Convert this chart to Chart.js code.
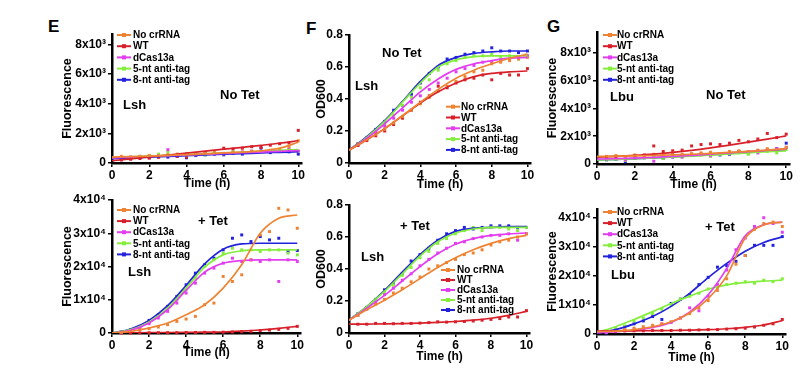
<!DOCTYPE html>
<html><head><meta charset="utf-8">
<script src="https://cdn.jsdelivr.net/npm/chart.js@4.4.0/dist/chart.umd.min.js"></script>
<style>
html,body{margin:0;padding:0;background:#fff;width:811px;height:387px;overflow:hidden;position:relative;}
.box{position:absolute;}
.letter{position:absolute;font:bold 17px "Liberation Sans",Arial,sans-serif;color:#000;line-height:17px;}
</style></head><body>
<div class="letter" style="left:48px;top:18px">E</div>
<div class="letter" style="left:306px;top:20px">F</div>
<div class="letter" style="left:547px;top:18px">G</div>
<script>
// ---------- shared ----------
const TIMES = [0.5,1,1.5,2,2.5,3,3.5,4,4.5,5,5.5,6,6.5,7,7.5,8,8.5,9,9.5,10];
const FIT_T = [0,1,2,3,4,5,6,7,8,9,10];
const SERIES = ['No crRNA','WT','dCas13a','5-nt anti-tag','8-nt anti-tag'];
const X_TICKS = [0,2,4,6,8,10];
const FLUO_TICKS_LOW = [0,2000,4000,6000,8000];
const FLUO_TICKS_HIGH = [0,10000,20000,30000,40000];
const OD_TICKS = [0,0.2,0.4,0.6,0.8];

// ---------- Panel E top: Lsh, No Tet (fluorescence) ----------
const eTopFitNo  = [400,430,470,520,570,620,680,740,820,1000,1400];
const eTopFitWT  = [150,280,410,540,670,800,930,1060,1190,1330,1500];
const eTopFitDC  = [350,390,440,490,540,590,640,690,740,790,840];
const eTopFit5   = [380,420,470,520,570,620,680,730,790,850,900];
const eTopFit8   = [300,340,390,440,490,540,590,630,680,720,760];
const eTopPtNo = [450,380,420,500,480,560,600,520,600,650,700,620,700,720,760,780,820,900,1100,1500];
const eTopPtWT = [200,250,300,330,380,500,450,400,600,700,650,1000,950,1000,1100,1050,1200,1300,1350,2200];
const eTopPtDC = [300,400,450,350,500,900,500,600,550,700,600,650,700,750,800,780,850,820,900,800];
const eTopPt5  = [350,400,450,500,600,750,500,650,600,550,700,650,750,700,800,750,850,900,950,800];
const eTopPt8  = [250,300,350,400,450,400,450,350,500,550,600,550,650,600,750,1000,700,800,750,600];

// ---------- Panel E bottom: Lsh, + Tet (fluorescence) ----------
const eBotFitNo = [0,500,1500,3000,5500,8500,13500,20500,30000,34500,35500];
const eBotFitWT = [0,50,100,150,200,250,300,550,900,1400,2000];
const eBotFitDC = [0,800,3000,7000,12800,18300,21000,21800,22000,22000,22000];
const eBotFit5  = [0,1000,3300,7500,13500,19800,23500,24700,25000,25000,25000];
const eBotFit8  = [0,1200,3800,8200,14300,20800,25200,26800,27000,27000,27000];
const eBotPtNo = [200,600,1000,1300,1800,2500,3500,4200,5000,8500,9000,17000,15500,17500,22000,29500,30500,37500,37000,31500];
const eBotPtWT = [0,0,50,50,100,100,100,150,150,200,200,250,300,400,500,700,900,1100,1400,2000];
const eBotPtDC = [100,600,1500,2800,4500,6500,9000,12000,15000,18000,19500,21000,22500,21500,22000,21500,22000,15500,22000,21500];
const eBotPt5  = [150,800,1800,3200,5000,7500,10000,13000,16500,20000,22000,24000,25500,25000,25000,24500,25000,25000,24000,23500];
const eBotPt8  = [200,900,2000,3800,5500,8000,11000,14500,18000,20500,22500,25000,28500,29500,27500,29000,28000,28500,24500,24800];

// ---------- Panel F top: Lsh, No Tet (OD600) ----------
const fTopFitNo = [0.08,0.145,0.215,0.295,0.38,0.46,0.53,0.58,0.62,0.655,0.68];
const fTopFitWT = [0.08,0.145,0.215,0.295,0.375,0.445,0.50,0.54,0.56,0.57,0.575];
const fTopFitDC = [0.08,0.155,0.245,0.345,0.445,0.525,0.585,0.62,0.64,0.655,0.66];
const fTopFit5  = [0.08,0.16,0.26,0.38,0.50,0.60,0.645,0.665,0.67,0.67,0.67];
const fTopFit8  = [0.08,0.165,0.265,0.385,0.51,0.61,0.66,0.685,0.695,0.70,0.70];
const fTopPtNo = [0.12,0.15,0.18,0.21,0.25,0.29,0.33,0.37,0.41,0.45,0.48,0.51,0.54,0.57,0.58,0.62,0.63,0.64,0.65,0.66];
const fTopPtWT = [0.11,0.14,0.17,0.20,0.24,0.28,0.33,0.38,0.42,0.48,0.47,0.50,0.52,0.53,0.55,0.52,0.56,0.55,0.55,0.59];
const fTopPtDC = [0.11,0.15,0.19,0.23,0.28,0.33,0.38,0.42,0.46,0.50,0.53,0.57,0.59,0.61,0.63,0.63,0.64,0.65,0.66,0.67];
const fTopPt5  = [0.12,0.16,0.20,0.24,0.30,0.36,0.41,0.47,0.52,0.58,0.62,0.64,0.66,0.67,0.67,0.68,0.66,0.67,0.65,0.67];
const fTopPt8  = [0.12,0.16,0.21,0.26,0.33,0.36,0.43,0.50,0.56,0.60,0.65,0.66,0.68,0.69,0.70,0.72,0.70,0.70,0.69,0.70];

// ---------- Panel F bottom: Lsh, + Tet (OD600) ----------
const fBotFitNo = [0.08,0.145,0.205,0.27,0.34,0.41,0.47,0.52,0.56,0.59,0.61];
const fBotFitWT = [0.055,0.056,0.057,0.059,0.062,0.066,0.072,0.08,0.092,0.11,0.135];
const fBotFitDC = [0.08,0.155,0.235,0.325,0.415,0.495,0.555,0.59,0.61,0.62,0.625];
const fBotFit5  = [0.08,0.165,0.26,0.37,0.48,0.57,0.625,0.65,0.66,0.66,0.66];
const fBotFit8  = [0.08,0.165,0.265,0.38,0.49,0.58,0.635,0.655,0.66,0.665,0.665];
const fBotPtNo = [0.11,0.15,0.18,0.21,0.25,0.28,0.32,0.35,0.40,0.42,0.44,0.46,0.49,0.50,0.52,0.55,0.57,0.58,0.60,0.62];
const fBotPtWT = [0.055,0.055,0.06,0.06,0.058,0.06,0.06,0.062,0.065,0.07,0.068,0.07,0.072,0.075,0.08,0.085,0.09,0.10,0.10,0.14];
const fBotPtDC = [0.11,0.15,0.19,0.24,0.28,0.33,0.37,0.42,0.46,0.50,0.53,0.56,0.57,0.59,0.60,0.61,0.61,0.62,0.58,0.62];
const fBotPt5  = [0.12,0.16,0.21,0.26,0.30,0.36,0.41,0.47,0.51,0.56,0.59,0.62,0.64,0.66,0.64,0.66,0.66,0.65,0.64,0.66];
const fBotPt8  = [0.12,0.16,0.21,0.27,0.31,0.37,0.45,0.49,0.53,0.58,0.62,0.64,0.66,0.65,0.66,0.67,0.67,0.67,0.66,0.66];

// ---------- Panel G top: Lbu, No Tet (fluorescence) ----------
const gTopFitNo = [550,560,580,610,650,700,760,830,910,1000,1100];
const gTopFitWT = [500,550,620,710,830,980,1160,1360,1570,1790,2020];
const gTopFitDC = [350,380,420,470,540,620,710,800,890,980,1070];
const gTopFit5  = [300,340,380,430,490,560,640,720,800,880,950];
const gTopFit8  = [300,340,390,440,510,590,670,760,850,950,1050];
const gTopPtNo = [550,600,500,650,600,700,650,800,700,750,800,850,750,900,950,900,1000,1100,1000,1200];
const gTopPtWT = [500,550,450,600,650,1300,900,950,1000,1300,1400,1450,1400,1500,1700,1600,1800,2200,1900,2150];
const gTopPtDC = [350,400,300,450,500,200,550,600,500,650,700,600,750,800,850,900,800,1000,1100,1200];
const gTopPt5  = [300,350,250,400,450,500,400,550,500,600,650,550,700,750,800,700,850,900,800,1050];
const gTopPt8  = [300,350,150,400,450,550,400,500,600,650,700,750,650,700,900,800,950,1000,1100,1500];

// ---------- Panel G bottom: Lbu, + Tet (fluorescence) ----------
const gBotFitNo = [800,1000,1500,2500,4200,7200,12200,20000,33000,37500,38500];
const gBotFitWT = [1000,1050,1100,1150,1200,1300,1500,1800,2300,3100,4600];
const gBotFitDC = [500,800,1300,2300,4000,7500,13500,22500,33800,37600,38500];
const gBotFit5  = [500,2500,5000,7700,10500,13000,15400,16900,17700,18200,18500];
const gBotFit8  = [300,1500,3500,6000,9500,14000,19400,24300,28500,31500,33400];
const gBotPtNo = [900,1200,1500,2000,2500,3000,3500,4200,5500,7000,9000,11500,15000,19000,24000,27000,36000,38000,38500,37000];
const gBotPtWT = [1000,1000,1100,1100,1100,1200,1200,1200,1300,1300,1400,1500,1500,1700,1800,2000,2400,3000,3500,5000];
const gBotPtDC = [500,800,1100,1500,2000,2500,3500,4000,5500,9000,8000,13000,17000,22000,29000,33000,37000,40000,38000,35000];
const gBotPt5  = [600,2000,2800,4500,5500,7000,8500,10000,12000,13000,14000,15500,16000,17000,17500,18000,17500,18500,18000,19000];
const gBotPt8  = [300,1500,2500,3500,4500,6000,5000,10500,12000,13500,17000,19500,23000,23500,25000,27000,30500,30500,30500,33500];

const COLORS = ['#EE8433','#D8202A','#E23EF0','#84EE3C','#2222DD'];
const FONT = '"Liberation Sans", Arial, sans-serif';

function fluoFmt(v){
  if (v === 0) return '0';
  if (v >= 10000) return (v/10000) + 'x10\u2074';
  return (v/1000) + 'x10\u00B3';
}
function odFmt(v){ return v === 0 ? '0' : v.toFixed(1); }

const overlay = {
  id: 'overlay',
  afterDatasetsDraw(chart, args, o) {
    if (!o || !o.legend) return;
    const ctx = chart.ctx;
    ctx.save();
    const lg = o.legend;
    ctx.font = 'bold 10px ' + FONT;
    ctx.textBaseline = 'middle';
    ctx.textAlign = 'left';
    SERIES.forEach((name, i) => {
      const y = lg.y + i * lg.dy - o.oy;
      const x0 = lg.x - o.ox;
      ctx.strokeStyle = COLORS[i];
      ctx.lineWidth = 2;
      ctx.beginPath(); ctx.moveTo(x0, y); ctx.lineTo(x0 + lg.w, y); ctx.stroke();
      ctx.fillStyle = COLORS[i];
      ctx.fillRect(x0 + lg.w/2 - 2, y - 2, 4, 4);
      ctx.fillStyle = '#000';
      ctx.fillText(name, lg.tx - o.ox, y + 0.5);
    });
    ctx.font = 'bold 13px ' + FONT;
    o.texts.forEach(t => ctx.fillText(t.s, t.x - o.ox, t.y - o.oy));
    ctx.restore();
  }
};

function makePanel(p) {
  const left = Math.round(p.titleX - 7);
  const top = p.T - 12;
  const yw = p.L - left;
  const xh = p.xTitleDy + 7;
  const width = p.R + 12 - left;
  const height = p.B + xh - top;
  const div = document.createElement('div');
  div.className = 'box';
  div.style.left = left + 'px'; div.style.top = top + 'px';
  div.style.width = width + 'px'; div.style.height = height + 'px';
  const cv = document.createElement('canvas');
  div.appendChild(cv);
  document.body.appendChild(div);

  const datasets = [];
  p.fits.forEach((arr, i) => {
    datasets.push({
      type: 'line', label: SERIES[i],
      data: FIT_T.map((t, k) => ({x: t, y: arr[k]})),
      borderColor: COLORS[i], borderWidth: 1.7, pointRadius: 0,
      cubicInterpolationMode: 'monotone', fill: false
    });
  });
  p.pts.forEach((arr, i) => {
    datasets.push({
      type: 'scatter', label: SERIES[i] + ' data',
      data: TIMES.map((t, k) => ({x: t, y: arr[k]})),
      backgroundColor: COLORS[i], borderColor: COLORS[i],
      pointStyle: 'rect', pointRadius: 2.1, borderWidth: 0, clip: false
    });
  });

  new Chart(cv, {
    type: 'scatter',
    data: { datasets },
    options: {
      responsive: true, maintainAspectRatio: false, animation: false,
      layout: { padding: { left: 0, top: 12, right: 12, bottom: 0 } },
      plugins: {
        legend: { display: false }, tooltip: { enabled: false },
        overlay: { ox: left, oy: top, legend: p.legend, texts: p.texts }
      },
      scales: {
        x: {
          type: 'linear', min: 0, max: 10.2,
          afterBuildTicks: s => { s.ticks = X_TICKS.map(v => ({value: v})); },
          afterFit: s => { s.height = xh; },
          ticks: { color: '#000', font: { family: FONT, weight: 'bold', size: 12 }, padding: 1, maxRotation: 0, autoSkip: false,
                   callback: v => String(v) },
          grid: { drawOnChartArea: false, tickLength: 4, color: '#000', lineWidth: 1.5 },
          border: { display: true, color: '#000', width: 2.5 },
          title: { display: true, text: 'Time (h)', color: '#000', font: { family: FONT, weight: 'bold', size: 12 }, padding: 0 }
        },
        y: {
          type: 'linear', min: 0, max: p.ymax,
          afterBuildTicks: s => { s.ticks = p.yticks.map(v => ({value: v})); },
          afterFit: s => { s.width = yw; },
          ticks: { color: '#000', font: { family: FONT, weight: 'bold', size: 12 }, padding: 2, autoSkip: false,
                   callback: p.yfmt },
          grid: { drawOnChartArea: false, tickLength: 4, color: '#000', lineWidth: 1.5 },
          border: { display: true, color: '#000', width: 2.5 },
          title: { display: true, text: p.ytitle, color: '#000', font: { family: FONT, weight: 'bold', size: 12.5 }, padding: 0 }
        }
      }
    },
    plugins: [overlay]
  });
}

Chart.defaults.font.family = FONT;

makePanel({ L:112, T:34, R:302, B:163, titleX:67, xTitleDy:21, ymax:8700, yticks:FLUO_TICKS_LOW, yfmt:fluoFmt, ytitle:'Fluorescence',
  fits:[eTopFitNo,eTopFitWT,eTopFitDC,eTopFit5,eTopFit8], pts:[eTopPtNo,eTopPtWT,eTopPtDC,eTopPt5,eTopPt8],
  legend:{x:117,w:14,tx:133,y:35,dy:11.2}, texts:[{s:'No Tet',x:220,y:95},{s:'Lsh',x:123,y:105}] });

makePanel({ L:112, T:200, R:301, B:333, titleX:67, xTitleDy:20, ymax:40000, yticks:FLUO_TICKS_HIGH, yfmt:fluoFmt, ytitle:'Fluorescence',
  fits:[eBotFitNo,eBotFitWT,eBotFitDC,eBotFit5,eBotFit8], pts:[eBotPtNo,eBotPtWT,eBotPtDC,eBotPt5,eBotPt8],
  legend:{x:117,w:14,tx:133,y:210,dy:11.1}, texts:[{s:'+ Tet',x:198,y:221},{s:'Lsh',x:128,y:272}] });

makePanel({ L:349, T:35, R:531, B:163, titleX:321, xTitleDy:22, ymax:0.8, yticks:OD_TICKS, yfmt:odFmt, ytitle:'OD600',
  fits:[fTopFitNo,fTopFitWT,fTopFitDC,fTopFit5,fTopFit8], pts:[fTopPtNo,fTopPtWT,fTopPtDC,fTopPt5,fTopPt8],
  legend:{x:446,w:14,tx:461,y:106.7,dy:10.8}, texts:[{s:'No Tet',x:382,y:53},{s:'Lsh',x:355,y:86}] });

makePanel({ L:349, T:205, R:530, B:333, titleX:321, xTitleDy:24, ymax:0.8, yticks:OD_TICKS, yfmt:odFmt, ytitle:'OD600',
  fits:[fBotFitNo,fBotFitWT,fBotFitDC,fBotFit5,fBotFit8], pts:[fBotPtNo,fBotPtWT,fBotPtDC,fBotPt5,fBotPt8],
  legend:{x:441,w:14,tx:457,y:270,dy:10}, texts:[{s:'+ Tet',x:400,y:226},{s:'Lsh',x:361,y:257}] });

makePanel({ L:597, T:32, R:790, B:164, titleX:552, xTitleDy:21, ymax:9500, yticks:FLUO_TICKS_LOW, yfmt:fluoFmt, ytitle:'Fluorescence',
  fits:[gTopFitNo,gTopFitWT,gTopFitDC,gTopFit5,gTopFit8], pts:[gTopPtNo,gTopPtWT,gTopPtDC,gTopPt5,gTopPt8],
  legend:{x:603,w:14,tx:617,y:35,dy:11.2}, texts:[{s:'Lbu',x:610,y:97},{s:'No Tet',x:706,y:95}] });

makePanel({ L:597, T:209, R:786, B:334, titleX:552, xTitleDy:24, ymax:43000, yticks:FLUO_TICKS_HIGH, yfmt:fluoFmt, ytitle:'Fluorescence',
  fits:[gBotFitNo,gBotFitWT,gBotFitDC,gBotFit5,gBotFit8], pts:[gBotPtNo,gBotPtWT,gBotPtDC,gBotPt5,gBotPt8],
  legend:{x:603,w:14,tx:617,y:212,dy:11.1}, texts:[{s:'+ Tet',x:705,y:227},{s:'Lbu',x:611,y:275}] });
</script>
</body></html>
